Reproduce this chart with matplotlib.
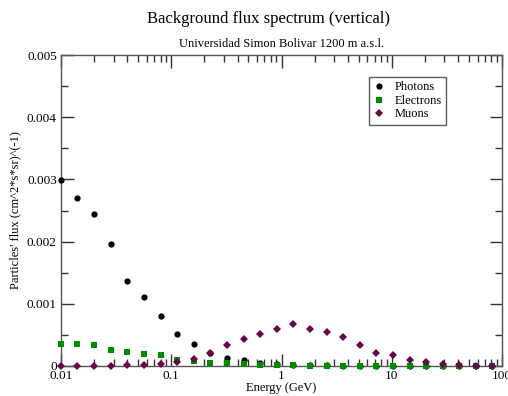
import matplotlib.pyplot as plt
import numpy as np
from matplotlib.ticker import LogLocator, MultipleLocator, FixedFormatter, FixedLocator

plt.rcParams['font.family'] = ['Liberation Serif', 'DejaVu Serif']

energy = [0.01, 0.0141, 0.02, 0.0283, 0.04, 0.0566, 0.08, 0.113, 0.16, 0.226,
          0.32, 0.453, 0.64, 0.905, 1.28, 1.81, 2.56, 3.62, 5.12, 7.24,
          10.24, 14.5, 20.5, 29.0, 41.0, 57.9, 81.9]

photons = [0.00299, 0.00270, 0.00245, 0.00196, 0.00137, 0.00111, 0.00080, 0.00052,
           0.00036, 0.00021, 0.000128, 0.00009, 0.000055, 0.00004, 0.00002, 0.000015,
           0.00001, 0.000008, 0.000005, 0.000004, 0.000003, 0.000002, 0.000001,
           0.000001, 0.0, 0.0, 0.0]

electrons = [0.00036, 0.00036, 0.00034, 0.00026, 0.00022, 0.00020, 0.00017, 0.00010,
             0.000086, 0.000055, 0.000045, 0.00003, 0.00002, 0.000015, 0.00001,
             0.000008, 0.000006, 0.000005, 0.000004, 0.000003, 0.000002, 0.000001,
             0.000001, 0.0, 0.0, 0.0, 0.0]

muons = [0.0, 0.0, 0.0, 0.0, 0.00002, 0.00002, 0.00004, 0.00007, 0.00011, 0.00021,
         0.00034, 0.00044, 0.00052, 0.00059, 0.00068, 0.00060, 0.00054, 0.00046,
         0.00033, 0.00021, 0.00017, 0.00010, 0.00006, 0.00003, 0.00001, 0.0, 0.0]

xticks = [0.01, 0.1, 1, 10, 100]
xticklabels = ["0.01", "0.1", "1", "10", "100"]
yticks = [0, 0.001, 0.002, 0.003, 0.004, 0.005]
yticklabels = ["0", "0.001", "0.002", "0.003", "0.004", "0.005"]

fig = plt.figure(figsize=(5.08, 3.96), dpi=100)
ax = fig.add_axes([61/508, 1-366/396, 441/508, 311/396])

ax.plot(energy, photons, 'o', color='black', ms=4.5, mew=0, label='Photons', clip_on=False, zorder=3)
ax.plot(energy, electrons, 's', color='#008b00', ms=4.2, mew=0, label='Electrons', clip_on=False, zorder=3)
ax.plot(energy, muons, 'D', color='#670748', ms=3.8, mew=0, label='Muons', clip_on=False, zorder=3)

ax.set_xscale('log')
ax.set_xlim(0.01, 100)
ax.set_ylim(0, 0.005)
ax.xaxis.set_major_locator(FixedLocator(xticks))
ax.xaxis.set_major_formatter(FixedFormatter(xticklabels))
ax.xaxis.set_minor_locator(LogLocator(base=10, subs=np.arange(2, 10)))
ax.yaxis.set_major_locator(FixedLocator(yticks))
ax.yaxis.set_major_formatter(FixedFormatter(yticklabels))
ax.yaxis.set_minor_locator(MultipleLocator(0.0005))

ax.tick_params(which='both', direction='in', top=True, right=True, width=1, color='#333333',
               labelsize=9.5, pad=3)
ax.tick_params(which='major', length=9)
ax.tick_params(which='minor', length=5)
for s in ax.spines.values():
    s.set_color('#555555')
    s.set_linewidth(1)

ax.set_xlabel("Energy (GeV)", fontsize=9, labelpad=0)
ax.set_ylabel("Particles' flux (cm^2*s*sr)^(-1)", fontsize=9, labelpad=4)

fig.text(0.528, 0.952, "Background flux spectrum (vertical)", ha='center', va='center', fontsize=12)
fig.text(0.554, 0.889, "Universidad Simon Bolivar 1200 m a.s.l.", ha='center', va='center', fontsize=9)

leg = ax.legend(loc='upper left', bbox_to_anchor=(0.698, 0.929), fontsize=9, frameon=True,
                fancybox=False, handletextpad=0.7, handlelength=1.0, borderpad=0.35,
                labelspacing=0.12, borderaxespad=0)
leg.get_frame().set_edgecolor('#333333')
leg.get_frame().set_linewidth(1)

fig.savefig("out.png", dpi=100)
